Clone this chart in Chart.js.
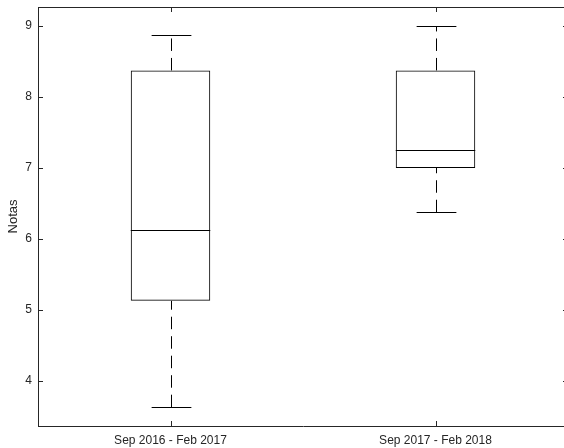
<!DOCTYPE html>
<html>
<head>
<meta charset="utf-8">
<script src="https://cdn.jsdelivr.net/npm/chart.js@4/dist/chart.umd.min.js"></script>
<style>
  html, body { margin: 0; padding: 0; background: #fff; overflow: hidden; }
  #wrap { width: 572px; height: 448px; }
</style>
</head>
<body>
<div id="wrap"><canvas id="boxChart" width="572" height="448"></canvas></div>
<script>
// box plot values
const categories = ["Sep 2016 - Feb 2017", "Sep 2017 - Feb 2018"];
const whiskerLow = [3.625, 6.375];
const q1 = [5.125, 7.0];
const median = [6.125, 7.25];
const q3 = [8.375, 8.375];
const whiskerHigh = [8.875, 9.0];
const yTicks = [4, 5, 6, 7, 8, 9];
const yMin = 3.36, yMax = 9.27;

const axisColor = "#262626";
const fontFamily = "'Liberation Sans', Arial, Helvetica, sans-serif";

function crisp(v) { return Math.round(v) + 0.5; }

// medians, dashed whiskers and caps, like a matlab boxplot
const boxExtras = {
    id: "boxExtras",
    afterDatasetsDraw(chart) {
        const ctx = chart.ctx;
        const x = chart.scales.x, y = chart.scales.y;
        const meta = chart.getDatasetMeta(0);
        ctx.save();
        ctx.strokeStyle = "#000";
        ctx.lineWidth = 1;
        categories.forEach((c, i) => {
            const bar = meta.data[i];
            const cx = crisp(x.getPixelForValue(i));
            const half = bar.width / 2;
            const capHalf = half / 2;
            // median
            const ym = crisp(y.getPixelForValue(median[i]));
            ctx.setLineDash([]);
            ctx.beginPath();
            ctx.moveTo(bar.x - half, ym);
            ctx.lineTo(bar.x + half, ym);
            ctx.stroke();
            // whiskers, drawn bottom to top so the dash starts low
            ctx.setLineDash([12.5, 7]);
            ctx.beginPath();
            ctx.moveTo(cx, y.getPixelForValue(whiskerLow[i]));
            ctx.lineTo(cx, y.getPixelForValue(q1[i]));
            ctx.stroke();
            ctx.beginPath();
            ctx.moveTo(cx, y.getPixelForValue(q3[i]));
            ctx.lineTo(cx, y.getPixelForValue(whiskerHigh[i]));
            ctx.stroke();
            // caps
            ctx.setLineDash([]);
            [whiskerLow[i], whiskerHigh[i]].forEach(v => {
                const yy = crisp(y.getPixelForValue(v));
                ctx.beginPath();
                ctx.moveTo(cx - capHalf, yy);
                ctx.lineTo(cx + capHalf, yy);
                ctx.stroke();
            });
        });
        ctx.restore();
    },
    afterDraw(chart) {
        const ctx = chart.ctx;
        const a = chart.chartArea;
        const x = chart.scales.x, y = chart.scales.y;
        const tl = 5;
        ctx.save();
        ctx.strokeStyle = axisColor;
        ctx.lineWidth = 1;
        ctx.beginPath();
        // box: top and right edges
        ctx.moveTo(a.left, crisp(a.top));
        ctx.lineTo(a.right, crisp(a.top));
        ctx.moveTo(crisp(a.right), a.top);
        ctx.lineTo(crisp(a.right), a.bottom);
        // inner ticks
        yTicks.forEach(v => {
            const yy = crisp(y.getPixelForValue(v));
            ctx.moveTo(a.left, yy);
            ctx.lineTo(a.left + tl, yy);
            ctx.moveTo(a.right, yy);
            ctx.lineTo(a.right - tl, yy);
        });
        categories.forEach((c, i) => {
            const xx = crisp(x.getPixelForValue(i));
            ctx.moveTo(xx, a.bottom);
            ctx.lineTo(xx, a.bottom - tl);
            ctx.moveTo(xx, a.top);
            ctx.lineTo(xx, a.top + tl);
        });
        ctx.stroke();
        ctx.restore();
    }
};

new Chart(document.getElementById("boxChart").getContext("2d"), {
    type: "bar",
    data: {
        labels: categories,
        datasets: [{
            label: "Notas",
            data: categories.map((c, i) => [q1[i], q3[i]]),
            backgroundColor: "rgba(255,255,255,0)",
            borderColor: "#000",
            borderWidth: 1,
            borderSkipped: false,
            categoryPercentage: 1,
            barPercentage: 0.3
        }]
    },
    options: {
        responsive: false,
        animation: false,
        events: [],
        layout: {
            padding: { top: 7, right: 4, left: 0, bottom: 0 }
        },
        plugins: {
            legend: { display: false },
            tooltip: { enabled: false },
            title: { display: false }
        },
        scales: {
            x: {
                offset: true,
                grid: { display: false, drawTicks: false },
                border: { display: true, color: axisColor, width: 1 },
                ticks: {
                    color: axisColor,
                    padding: 7,
                    maxRotation: 0,
                    font: { family: fontFamily, size: 12 }
                },
                afterFit: scale => {
                    scale.height = 22;
                    scale.paddingLeft = 0;
                    scale.paddingRight = 0;
                }
            },
            y: {
                min: yMin,
                max: yMax,
                afterBuildTicks: scale => {
                    scale.ticks = yTicks.map(v => ({ value: v }));
                },
                grid: { display: false, drawTicks: false },
                border: { display: true, color: axisColor, width: 1 },
                ticks: {
                    color: axisColor,
                    padding: 6,
                    font: { family: fontFamily, size: 12 }
                },
                title: {
                    display: true,
                    text: "Notas",
                    color: axisColor,
                    padding: { top: 6, bottom: 0 },
                    font: { family: fontFamily, size: 13 }
                },
                afterFit: scale => {
                    scale.width = 38;
                    scale.paddingTop = 0;
                    scale.paddingBottom = 0;
                }
            }
        }
    },
    plugins: [boxExtras]
});
</script>
</body>
</html>
